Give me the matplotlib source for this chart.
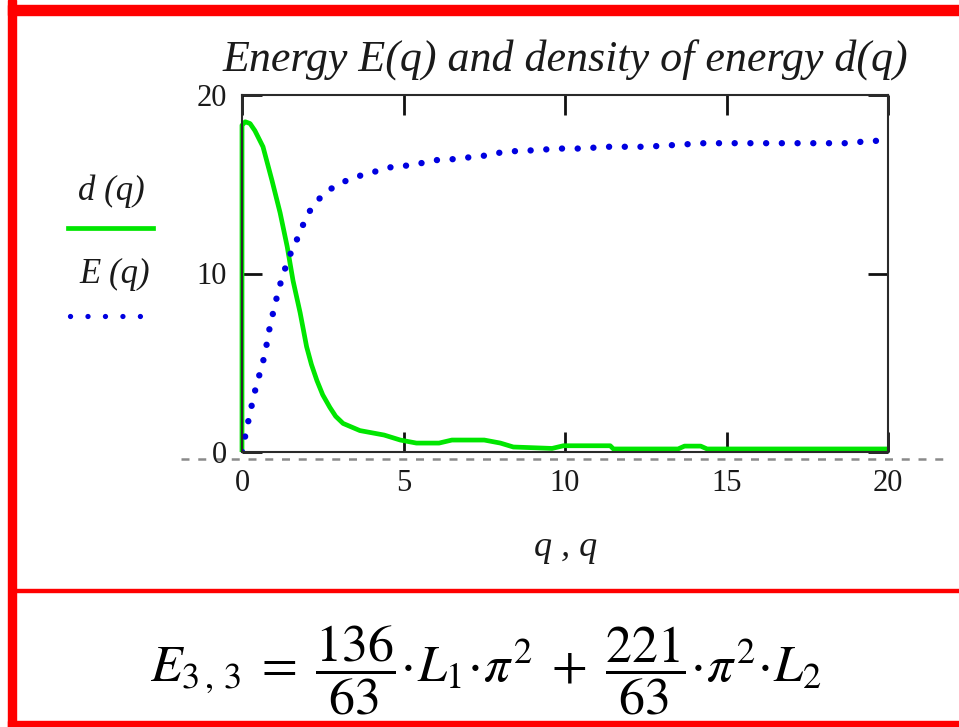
import matplotlib
matplotlib.use("Agg")
import matplotlib.pyplot as plt
from matplotlib.lines import Line2D
from matplotlib.patches import Rectangle

# ---------------- data ----------------
q_d = [0, 0, 0.1, 0.25, 0.4, 0.65, 0.93, 1.18, 1.4, 1.58, 1.8, 2.0, 2.15, 2.32,
       2.5, 2.72, 2.9, 3.13, 3.65, 4.4, 4.9, 5.4, 6.1, 6.5, 7.5, 8.0, 8.4, 9.6,
       9.95, 11.4, 11.5, 13.5, 13.7, 14.2, 14.4, 20]
d_vals = [0, 18.3, 18.5, 18.4, 18.0, 17.1, 15.2, 13.4, 11.5, 9.6, 7.8, 5.9, 4.9, 4.0,
          3.2, 2.5, 2.0, 1.6, 1.2, 0.95, 0.67, 0.5, 0.5, 0.67, 0.67, 0.5, 0.28, 0.2,
          0.35, 0.35, 0.17, 0.17, 0.33, 0.33, 0.17, 0.17]

q_E = [0, 0.1, 0.25, 0.4, 0.55, 0.7, 0.85, 1.0, 1.15, 1.3, 1.5, 1.7, 2.0, 2.2,
       2.5, 2.8, 3.1, 3.5, 3.9, 4.3, 4.7, 5.15, 5.6, 6.0, 6.5, 7.0, 7.5, 7.9,
       8.4, 9.0, 9.8, 10.5, 11.3, 12.5, 14.3, 16.0, 18.0, 18.9, 19.4, 20.0]
E_vals = [0, 0.9, 2.2, 3.4, 4.4, 5.4, 6.9, 8.1, 9.2, 10.1, 11.1, 11.9, 13.2, 13.8,
          14.4, 14.8, 15.1, 15.4, 15.6, 15.8, 16.0, 16.05, 16.2, 16.35, 16.4, 16.5,
          16.6, 16.75, 16.85, 16.9, 17.0, 17.0, 17.1, 17.1, 17.3, 17.3, 17.3, 17.3,
          17.45, 17.4]

x_ticks = [0, 5, 10, 15, 20]
y_ticks = [0, 10, 20]
title = "Energy E(q) and density of energy d(q)"
xlabel = "q , q"
legend_labels = ["d (q)", "E (q)"]
equation = r"$E_{3\,,\,3}\;=\;\dfrac{136}{63}\!\cdot\! L_1\!\cdot\!\pi^{2}\;+\;\dfrac{221}{63}\!\cdot\!\pi^{2}\!\cdot\! L_2$"

# ---------------- figure ----------------
W, H = 959, 727
fig = plt.figure(figsize=(W / 100, H / 100), dpi=100)
fig.patch.set_facecolor("white")
plt.rcParams["mathtext.fontset"] = "stix"

def fx(px):
    return px / W

def fy(py):
    return 1 - py / H

serif = ["Liberation Serif", "DejaVu Serif"]
green = "#00e600"
blue = "#0000e0"
txtc = "#1a1a1a"

# axes placement
x0, x1, ytop, ybot = 242, 888, 95, 452
ax = fig.add_axes([fx(x0), fy(ybot), fx(x1 - x0), (ybot - ytop) / H])
ax.set_xlim(0, 20)
ax.set_ylim(0, 20)

# zero dashed line (Mathcad marker), extends beyond the axes
ax.plot([-1.9, 21.95], [-0.37, -0.37], color="#8a8a8a", lw=1.8,
        dashes=(3.2, 3.5), clip_on=False, zorder=1)

ax.plot(q_d, d_vals, color=green, lw=3.4, clip_on=False, zorder=3,
        solid_joinstyle="round", solid_capstyle="butt")
ax.plot(q_E, E_vals, color=blue, lw=4.6, linestyle=(0, (0.01, 2.45)),
        dash_capstyle="round", zorder=4)

for s in ax.spines.values():
    s.set_color("#2a2a2a")
    s.set_linewidth(1.5)
    s.set_zorder(5)

ax.set_xticks(x_ticks)
ax.set_yticks(y_ticks)
ax.tick_params(axis="both", direction="in", length=14.5, width=2.0,
               color="#111111", top=True, right=True,
               labelsize=22, labelcolor=txtc)
ax.tick_params(axis="x", pad=12)
ax.tick_params(axis="y", pad=11)
for lab in ax.get_xticklabels() + ax.get_yticklabels():
    lab.set_family(serif)

# title and x label
t = fig.text(fx(565), fy(72), title, ha="center", va="baseline",
             fontsize=28, style="italic", family=serif, color=txtc)
fig.text(fx(566), fy(556), xlabel, ha="center", va="baseline",
         fontsize=26, style="italic", family=serif, color=txtc)

# legend (Mathcad style, stacked at left)
fig.text(fx(111), fy(200), legend_labels[0], ha="center", va="baseline",
         fontsize=25, style="italic", family=serif, color=txtc)
fig.add_artist(Line2D([fx(68), fx(153)], [fy(228), fy(228)], color=green, lw=3.4,
                      transform=fig.transFigure))
fig.text(fx(115), fy(283), legend_labels[1], ha="center", va="baseline",
         fontsize=25, style="italic", family=serif, color=txtc)
fig.add_artist(Line2D([fx(70), fx(142)], [fy(316), fy(316)], color=blue, lw=3.8,
                      linestyle=(0, (0.01, 3.3)), dash_capstyle="round",
                      transform=fig.transFigure))

# equation
eq = fig.text(fx(486), fy(670), equation, ha="center", va="center",
              fontsize=36, color="black")

# fit title / equation width to reference
fig.canvas.draw()
r = fig.canvas.get_renderer()
bb = t.get_window_extent(r)
t.set_fontsize(28 * 686 / bb.width)
bb = eq.get_window_extent(r)
eq.set_fontsize(36 * 672 / bb.width)

# red frame
red = "#ff0000"
fig.add_artist(Rectangle((fx(8), fy(727)), fx(8), 727 / H, color=red,
                         transform=fig.transFigure, zorder=10))
fig.add_artist(Rectangle((fx(8), fy(15)), 1, 10 / H, color=red,
                         transform=fig.transFigure, zorder=10))
fig.add_artist(Rectangle((fx(8), fy(727)), 1, 6 / H, color=red,
                         transform=fig.transFigure, zorder=10))
fig.add_artist(Rectangle((fx(16), fy(592)), 1, 3 / H, color=red,
                         transform=fig.transFigure, zorder=10))

fig.savefig("out.png", dpi=100, facecolor="white")
